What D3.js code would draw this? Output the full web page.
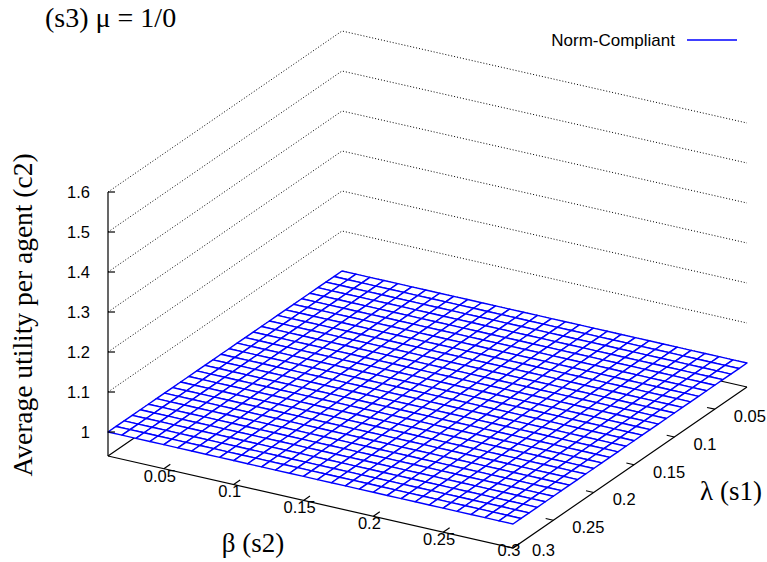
<!DOCTYPE html>
<html>
<head>
<meta charset="utf-8">
<script src="https://cdn.jsdelivr.net/npm/d3@7"></script>
<style>
  html, body { margin: 0; padding: 0; background: #fff; }
  svg { display: block; }
  .tick-label { font-family: "Liberation Sans", Arial, Helvetica, sans-serif; font-size: 16.5px; fill: #000; }
  .serif { font-family: "Liberation Serif", "Times New Roman", serif; fill: #000; }
</style>
</head>
<body>
<svg id="chart" width="767" height="562"></svg>
<script>
// Sample grid of the two parameters (s1 = lambda, s2 = beta)
const betaSamples = [0.01, 0.02, 0.03, 0.04, 0.05, 0.06, 0.07, 0.08, 0.09, 0.10,
                     0.11, 0.12, 0.13, 0.14, 0.15, 0.16, 0.17, 0.18, 0.19, 0.20,
                     0.21, 0.22, 0.23, 0.24, 0.25, 0.26, 0.27, 0.28, 0.29, 0.30];
const lambdaSamples = [0.01, 0.02, 0.03, 0.04, 0.05, 0.06, 0.07, 0.08, 0.09, 0.10,
                       0.11, 0.12, 0.13, 0.14, 0.15, 0.16, 0.17, 0.18, 0.19, 0.20,
                       0.21, 0.22, 0.23, 0.24, 0.25, 0.26, 0.27, 0.28, 0.29, 0.30];
// Average utility per agent for the norm-compliant population: flat over the whole grid
const normCompliantUtility = 1.0;

const betaTicks = [0.05, 0.1, 0.15, 0.2, 0.25, 0.3];
const lambdaTicks = [0.05, 0.1, 0.15, 0.2, 0.25, 0.3];
const zTicks = [1, 1.1, 1.2, 1.3, 1.4, 1.5, 1.6];

const seriesName = "Norm-Compliant";
const titleText = "(s3) \u03bc = 1/0";
const zLabel = "Average utility per agent (c2)";
const betaLabel = "\u03b2 (s2)";
const lambdaLabel = "\u03bb (s1)";

// Utility table (rows = lambda, columns = beta)
const utility = lambdaSamples.map(() => betaSamples.map(() => normCompliantUtility));

const svg = d3.select("#chart");

// ---- 3D view: orthographic projection onto the page ----
const zBase = 0.94;
const bScale = d3.scaleLinear().domain([0.01, 0.3]).range([0, 1]);
const lScale = d3.scaleLinear().domain([0.01, 0.3]).range([0, 1]);
const zScale = d3.scaleLinear().domain([zBase, 1.6]).range([0, 264]);
const origin = [342, 295];          // back corner of the base
const eBeta = [405, 92];            // screen vector for the full beta range
const eLambda = [-234, 161];        // screen vector for the full lambda range

function proj(b, l, z) {
  const u = bScale(b), v = lScale(l), h = zScale(z);
  return [origin[0] + u * eBeta[0] + v * eLambda[0],
          origin[1] + u * eBeta[1] + v * eLambda[1] - h];
}
const line = d3.line();
const bMin = 0.01, bMax = 0.3, lMin = 0.01, lMax = 0.3;

// ---- z grid on the back walls ----
const gGrid = svg.append("g");
zTicks.forEach(z => {
  gGrid.append("path")
    .attr("d", line([proj(bMin, lMax, z), proj(bMin, lMin, z), proj(bMax, lMin, z)]))
    .attr("fill", "none")
    .attr("stroke", "#000")
    .attr("stroke-width", 1)
    .attr("stroke-dasharray", "1,2");
});

// ---- hidden base edges (behind the surface) ----
svg.append("path")
  .attr("d", line([proj(bMin, lMax, zBase), proj(bMin, lMin, zBase), proj(bMax, lMin, zBase)]))
  .attr("fill", "none").attr("stroke", "#000").attr("stroke-width", 1.2);

// ---- surface mesh ----
const cells = [];
for (let j = 0; j < lambdaSamples.length - 1; j++) {
  for (let i = 0; i < betaSamples.length - 1; i++) {
    cells.push([
      proj(betaSamples[i], lambdaSamples[j], utility[j][i]),
      proj(betaSamples[i + 1], lambdaSamples[j], utility[j][i + 1]),
      proj(betaSamples[i + 1], lambdaSamples[j + 1], utility[j + 1][i + 1]),
      proj(betaSamples[i], lambdaSamples[j + 1], utility[j + 1][i])
    ]);
  }
}
svg.append("g").selectAll("path").data(cells).join("path")
  .attr("d", d => line(d) + "Z")
  .attr("fill", "#fff")
  .attr("stroke", "#0000ff")
  .attr("stroke-width", 1.4)
  .attr("stroke-linejoin", "round");

// ---- front base edges ----
const gAxes = svg.append("g").attr("fill", "none").attr("stroke", "#000").attr("stroke-width", 1.2);
gAxes.append("path")
  .attr("d", line([proj(bMin, lMax, zBase), proj(bMax, lMax, zBase), proj(bMax, lMin, zBase)]));

// z axis
gAxes.append("path")
  .attr("d", line([proj(bMin, lMax, zBase), proj(bMin, lMax, 1.6)]));
zTicks.forEach(z => {
  const p = proj(bMin, lMax, z);
  gAxes.append("path").attr("d", line([p, [p[0] + 7, p[1]]]));
  svg.append("text").attr("class", "tick-label")
    .attr("x", p[0] - 18).attr("y", p[1]).attr("dy", "0.36em")
    .attr("text-anchor", "end")
    .text(d3.format("")(z));
});

// keep the lowest tick labels inside the page
const labelY = y => Math.min(y, 550);

// beta axis ticks (pointing inward along lambda)
betaTicks.forEach(b => {
  const p = proj(b, lMax, zBase);
  const q = proj(b, lMax - 0.008, zBase);
  gAxes.append("path").attr("d", line([p, q]));
  svg.append("text").attr("class", "tick-label")
    .attr("x", p[0] - 4).attr("y", labelY(p[1] + 7)).attr("dy", "0.36em")
    .attr("text-anchor", "middle")
    .text(b);
});

// lambda axis ticks (pointing inward along beta)
lambdaTicks.forEach(l => {
  const p = proj(bMax, l, zBase);
  const q = proj(bMax - 0.0055, l, zBase);
  gAxes.append("path").attr("d", line([p, q]));
  svg.append("text").attr("class", "tick-label")
    .attr("x", p[0] + 19).attr("y", labelY(p[1] + 7)).attr("dy", "0.36em")
    .attr("text-anchor", "start")
    .text(l);
});

// ---- titles and axis labels ----
svg.append("text").attr("class", "serif")
  .attr("x", 45).attr("y", 27)
  .style("font-size", "28px")
  .text(titleText);

svg.append("text").attr("class", "serif")
  .attr("transform", "translate(32,315) rotate(-90)")
  .attr("text-anchor", "middle")
  .style("font-size", "27.5px")
  .text(zLabel);

svg.append("text").attr("class", "serif")
  .attr("x", 253).attr("y", 552)
  .attr("text-anchor", "middle")
  .style("font-size", "27px")
  .text(betaLabel);

svg.append("text").attr("class", "serif")
  .attr("x", 731).attr("y", 500)
  .attr("text-anchor", "middle")
  .style("font-size", "27px")
  .text(lambdaLabel);

// ---- legend ----
svg.append("text").attr("class", "tick-label")
  .attr("x", 675).attr("y", 40).attr("dy", "0.36em")
  .attr("text-anchor", "end")
  .style("font-size", "17px")
  .text(seriesName);
svg.append("path")
  .attr("d", line([[687, 40], [737, 40]]))
  .attr("stroke", "#0000ff").attr("stroke-width", 1.4);
</script>
</body>
</html>
